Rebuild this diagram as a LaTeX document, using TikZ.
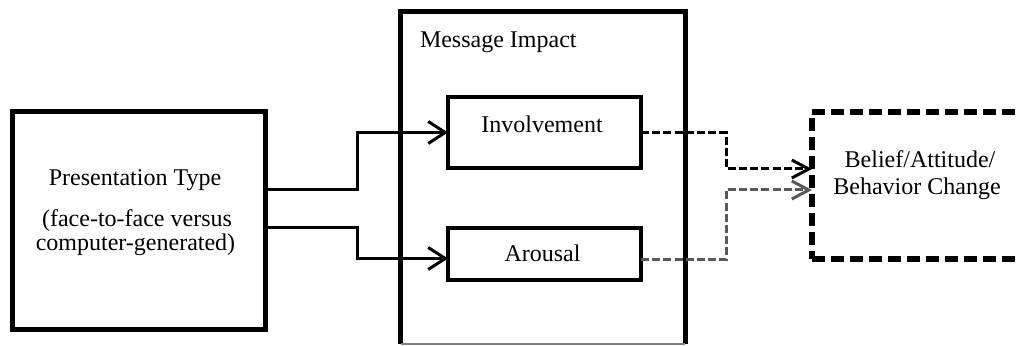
\documentclass[tikz,border=0pt]{standalone}
\usepackage{fontspec}
\setmainfont{Liberation Serif}
\usetikzlibrary{arrows.meta}

\begin{document}
\begin{tikzpicture}[x=0.5pt,y=-0.5pt,
  every node/.style={inner sep=0pt,outer sep=0pt,font=\fontsize{12}{13.5}\selectfont},
  thickbox/.style={draw=black,line width=2.5pt,rectangle},
  midbox/.style={draw=black,line width=2.2pt,rectangle,minimum width=96.5pt},
  dashbox/.style={draw=black,line width=2.6pt,rectangle,dash pattern=on 6.5pt off 3pt},
  lbl/.style={anchor=base},
  solidarrow/.style={draw=black,line width=1.5pt,
    -{Straight Barb[length=8.5pt,width=11pt]}},
  dasharrow/.style={line width=1.5pt,dash pattern=on 4pt off 1.6pt,
    -{Straight Barb[length=8.5pt,width=9pt,line width=1.5pt]}}
]
\useasboundingbox (0,0) rectangle (1021,346);

% input box
\node[thickbox,minimum width=126.5pt,minimum height=109pt] (pres) at (138.5,221) {};
\node[lbl] (presA) at (135,186) {Presentation Type};
\node[lbl] (presB) at (137,227) {(face-to-face versus};
\node[lbl] (presC) at (135.5,251) {computer-generated)};

% message impact frame (open at the bottom, only a hairline there)
\node[minimum width=142.25pt,minimum height=166pt] (impact) at (542.75,178) {};
\draw[line width=2.5pt] (impact.south west) -- (impact.north west)
  -- (impact.north east) -- (impact.south east);
\draw[line width=0.6pt,gray] (impact.south west) -- (impact.south east);
\node[anchor=base west] (impactlbl) at (420,48) {Message Impact};

% mediators
\node[midbox,minimum height=35.5pt] (inv) at (544.5,132.5) {};
\node[lbl] (invlbl) at (542,133) {Involvement};
\node[midbox,minimum height=26pt] (aro) at (544.5,254) {};
\node[lbl] (arolbl) at (542.5,262) {Arousal};

% outcome box
\node[dashbox,minimum width=109pt,minimum height=73.5pt] (belief) at (921,185.5) {};
\node[lbl] (beliefA) at (920,168) {Belief/Attitude/};
\node[lbl] (beliefB) at (917,195) {Behavior Change};

% paths into the mediators
\draw[solidarrow] ([yshift=15.5pt]pres.east) -- ++(92,0) |- (inv.west);
\draw[solidarrow] ([yshift=-3.5pt]pres.east) -- ++(92,0) |- ([yshift=-2.25pt]aro.west);

% paths into the outcome
\draw[dasharrow,draw=black] (inv.east) -- ++(85,0) |- ([yshift=8.25pt]belief.west);
\draw[dasharrow,draw=black!65] ([yshift=-3pt]aro.east) -- ++(85,0) |- ([yshift=-2.25pt]belief.west);
\end{tikzpicture}
\end{document}
